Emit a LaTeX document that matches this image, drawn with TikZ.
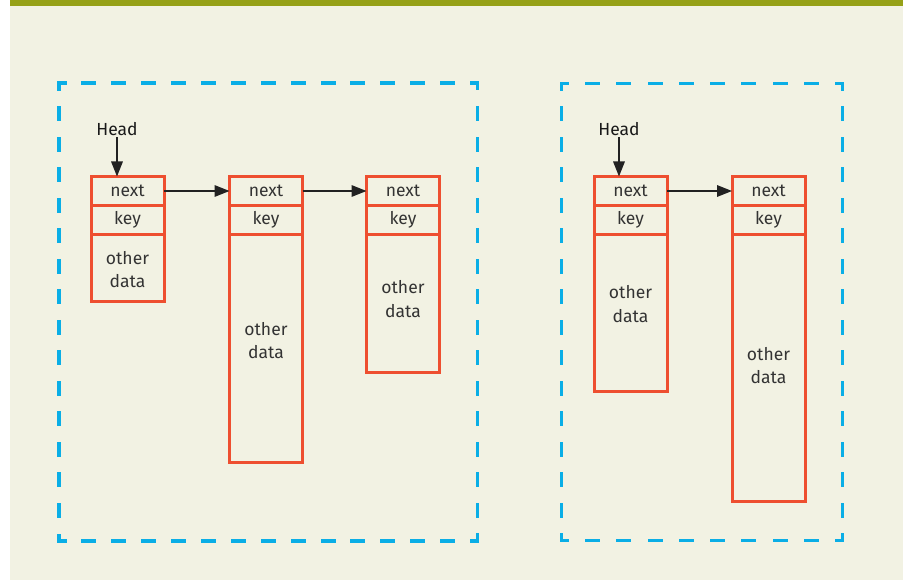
\documentclass[tikz,border=0pt]{standalone}
\usepackage{fontspec}
\setmainfont{Fira Sans}
\usetikzlibrary{arrows.meta}
\definecolor{pagebg}{HTML}{F2F2E3}
\definecolor{barolive}{HTML}{96A117}
\definecolor{cellred}{HTML}{EE4F30}
\definecolor{dashblue}{HTML}{0AAEE6}
\definecolor{inkgray}{HTML}{333333}
\definecolor{arrowink}{HTML}{222222}
\begin{document}
\begin{tikzpicture}[x=1pt,y=-1pt,
  labelfont/.style={font=\fontsize{17.5}{23.5}\selectfont},
  cell/.style={draw=cellred, line width=3pt, minimum width=73pt, inner sep=0pt,
    outer sep=0pt, anchor=north west, labelfont, text=inkgray},
  nextcell/.style={cell, minimum height=29pt},
  keycell/.style={cell, minimum height=29.5pt},
  datacell/.style={cell, minimum height=#1},
  datatext/.style={labelfont, text=inkgray, align=center, inner sep=0pt},
  headlabel/.style={labelfont, text=black!90, inner sep=1pt},
  link/.style={draw=arrowink, line width=1.6pt, -{Triangle[length=15pt,width=11.5pt]}},
  side/.style={draw=dashblue, line width=3.8pt, line cap=rect,
    dash pattern=on 11.2pt off #1, dash phase=5.6pt}]

% page background and title bar
\useasboundingbox (0,0) rectangle (903,580);
\fill[white] (0,0) rectangle (903,580);
\fill[pagebg] (10,0) rectangle (903,580);
\fill[barolive] (10,0) rectangle (903,6);

% dashed frames
\coordinate (fa1) at (59,83);    \coordinate (fa2) at (477.5,83);
\coordinate (fa3) at (477.5,541); \coordinate (fa4) at (59,541);
\draw[side=18.69pt] (fa1) -- (fa2);
\draw[side=19.33pt] (fa2) -- (fa3);
\draw[side=18.69pt] (fa3) -- (fa4);
\draw[side=19.33pt] (fa4) -- (fa1);

\coordinate (fb1) at (561.5,83.5); \coordinate (fb2) at (842.5,83.5);
\coordinate (fb3) at (842.5,540.5); \coordinate (fb4) at (561.5,540.5);
\draw[side=20.02pt] (fb1) -- (fb2);
\draw[side=19.27pt] (fb2) -- (fb3);
\draw[side=20.02pt] (fb3) -- (fb4);
\draw[side=19.27pt] (fb4) -- (fb1);

% list records: next / key / other data
\node[nextcell] (n1next) at (91,176.5) {next};
\node[keycell]  (n1key)  at (91,205.5) {key};
\node[datacell=66.5pt] (n1data) at (91,235) {};
\node[datatext] (n1txt) at (127.5,269.5) {other\\data};

\node[nextcell] (n2next) at (229.5,176.5) {next};
\node[keycell]  (n2key)  at (229.5,205.5) {key};
\node[datacell=227pt] (n2data) at (229.5,235) {};
\node[datatext] (n2txt) at (266,340.5) {other\\data};

\node[nextcell] (n3next) at (366.5,176.5) {next};
\node[keycell]  (n3key)  at (366.5,205.5) {key};
\node[datacell=137pt] (n3data) at (366.5,235) {};
\node[datatext] (n3txt) at (403,299) {other\\data};

\node[nextcell] (n4next) at (594,176.5) {next};
\node[keycell]  (n4key)  at (594,205.5) {key};
\node[datacell=156pt] (n4data) at (594,235) {};
\node[datatext] (n4txt) at (630.5,304) {other\\data};

\node[nextcell] (n5next) at (732,176.5) {next};
\node[keycell]  (n5key)  at (732,205.5) {key};
\node[datacell=266pt] (n5data) at (732,235) {};
\node[datatext] (n5txt) at (768.5,365.5) {other\\data};

% head pointers
\node[headlabel] (h1) at (117,129) {Head};
\node[headlabel] (h2) at (619,129) {Head};
\draw[link] (h1.south) -- (h1.south |- n1next.north);
\draw[link] (h2.south) -- (h2.south |- n4next.north);

% next links
\draw[link] (n1next.east) -- (n2next.west);
\draw[link] (n2next.east) -- (n3next.west);
\draw[link] (n4next.east) -- (n5next.west);
\end{tikzpicture}
\end{document}
